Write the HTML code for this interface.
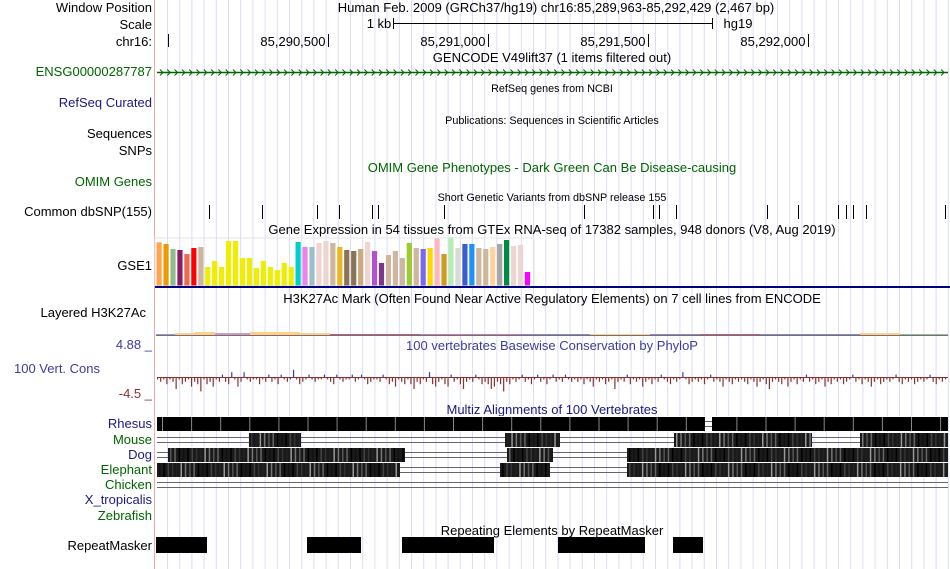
<!DOCTYPE html>
<html><head><meta charset="utf-8"><style>
body{margin:0;background:#fff;width:950px;height:569px;overflow:hidden;font-family:"Liberation Sans",sans-serif}
svg{display:block}
</style></head><body>
<svg id="c" width="950" height="569" xmlns="http://www.w3.org/2000/svg" font-family="Liberation Sans, sans-serif">
<g id="grid"></g>
<line x1="154.5" y1="0" x2="154.5" y2="569" stroke="#f4a8a8"/>
<g id="labels" font-size="13" text-anchor="end">
<text x="152" y="12">Window Position</text>
<text x="152" y="29">Scale</text>
<text x="152" y="46">chr16:</text>
<text x="152" y="76" fill="#006400">ENSG00000287787</text>
<text x="152" y="107" fill="#1a1a80">RefSeq Curated</text>
<text x="152" y="138">Sequences</text>
<text x="152" y="155">SNPs</text>
<text x="152" y="186" fill="#006400">OMIM Genes</text>
<text x="152" y="216">Common dbSNP(155)</text>
<text x="152" y="270">GSE1</text>
<text x="146" y="317">Layered H3K27Ac</text>
<text x="152" y="349" fill="#3c3c9c">4.88 _</text>
<text x="100" y="373" fill="#3c3c9c">100 Vert. Cons</text>
<text x="152" y="398" fill="#8b3030">-4.5 _</text>
<text x="152" y="428" fill="#1a1a80">Rhesus</text>
<text x="152" y="444" fill="#006400">Mouse</text>
<text x="152" y="459" fill="#1a1a80">Dog</text>
<text x="152" y="474" fill="#006400">Elephant</text>
<text x="152" y="489" fill="#006400">Chicken</text>
<text x="152" y="504" fill="#1a1a80">X_tropicalis</text>
<text x="152" y="520" fill="#006400">Zebrafish</text>
<text x="152" y="550">RepeatMasker</text>
</g>
<g font-size="13" text-anchor="middle">
<text x="556" y="12">Human Feb. 2009 (GRCh37/hg19)   chr16:85,289,963-85,292,429 (2,467 bp)</text>
<text x="379" y="28">1 kb</text>
<text x="738" y="28">hg19</text>
<text x="552" y="62">GENCODE V49lift37 (1 items filtered out)</text>
<text x="552" y="172" fill="#006400">OMIM Gene Phenotypes - Dark Green Can Be Disease-causing</text>
<text x="552" y="234">Gene Expression in 54 tissues from GTEx RNA-seq of 17382 samples, 948 donors (V8, Aug 2019)</text>
<text x="552" y="303">H3K27Ac Mark (Often Found Near Active Regulatory Elements) on 7 cell lines from ENCODE</text>
<text x="552" y="350" fill="#3c3c9c">100 vertebrates Basewise Conservation by PhyloP</text>
<text x="552" y="414" fill="#1a1a80">Multiz Alignments of 100 Vertebrates</text>
<text x="552" y="535">Repeating Elements by RepeatMasker</text>
</g>
<g font-size="10.8" text-anchor="middle">
<text x="552" y="92">RefSeq genes from NCBI</text>
<text x="552" y="124">Publications: Sequences in Scientific Articles</text>
<text x="552" y="201">Short Genetic Variants from dbSNP release 155</text>
</g>
<g stroke="#000">
<line x1="393" y1="23.5" x2="713" y2="23.5"/><line x1="393.5" y1="18" x2="393.5" y2="29"/><line x1="712.5" y1="18" x2="712.5" y2="29"/>
</g>
<g id="ruler"></g>
<g id="gene"></g>
<g id="snps"></g>
<g id="gtex"></g>
<g id="h3k"></g>
<g id="cons"></g>
<g id="multiz"></g>
<g id="rmsk"></g>
</svg>
<script>
const NS='http://www.w3.org/2000/svg';
const winStart=85289963, pxPerBp=0.32, x0=156.2;
function X(bp){return x0+(bp-winStart)*pxPerBp;}
function P(px){return winStart+(px-x0)/pxPerBp;}
function mk(parent,tag,attrs){const e=document.createElementNS(NS,tag);for(const k in attrs)e.setAttribute(k,attrs[k]);document.getElementById(parent).appendChild(e);return e;}

// grid
for(let gx=167.5;gx<950;gx+=12.2){
 const l=mk('grid','line',{x1:gx,y1:0,x2:gx,y2:569,stroke:'#dcdcf4'});
 
 
}

// ruler
const rulerTicks=[85290000,85290500,85291000,85291500,85292000];
const rulerLabels=['','85,290,500','85,291,000','85,291,500','85,292,000'];
rulerTicks.forEach((t,i)=>{
 const x=Math.round(X(t))+0.5;
 const l=mk('ruler','line',{x1:x,y1:34,x2:x,y2:47,stroke:'#000'});
 
 
 if(rulerLabels[i]){const tx=mk('ruler','text',{x:x-3,y:46,'font-size':13,'text-anchor':'end'});tx.textContent=rulerLabels[i];
 
 }
});

// gene arrows
mk('gene','line',{x1:157,y1:72.5,x2:948,y2:72.5,stroke:'#006400','stroke-width':1.5});
for(let ax=160;ax<946;ax+=7.3){
 const a=mk('gene','path',{d:`M${ax},69.5 L${ax+3},72.5 L${ax},75.5`,fill:'none',stroke:'#006400'});
 
 
}

// dbSNP
const snpPos=[85290129,85290294,85290466,85290535,85290638,85290657,85290863,85291301,85291516,85291535,85291588,85291872,85291969,85292094,85292119,85292141,85292181,85292428];
snpPos.forEach(p=>{const x=Math.round(X(p))+0.5;
 const l=mk('snps','line',{x1:x,y1:205,x2:x,y2:219,stroke:'#000'});
 
 });

// GTEx
const gtexValues=[43.7,42,37,36,32,38,39,19,25,19,45,45,28,28,18,25,19,16,23,19,44,39,39,43,45,43,39,36,35,37,44,35,23,31,35,28,43,38,37,38,48,32,49,38,42,42,38,37,39,42,46,40,41,14];
const gtexColors=['#FFA54F','#EE9A00','#8FBC8F','#8B1C62','#EE6A50','#FF0000','#CDB79E','#EEEE00','#EEEE00','#EEEE00','#EEEE00','#EEEE00','#EEEE00','#EEEE00','#EEEE00','#EEEE00','#EEEE00','#EEEE00','#EEEE00','#EEEE00','#00CDCD','#EE82EE','#9AC0CD','#EED5D2','#EED5D2','#CDB79E','#EEB422','#8B7355','#8B7355','#CDAA7D','#EED5D2','#B452CD','#7A378B','#CDB79E','#CDB79E','#CDB79E','#9ACD32','#CDB79E','#7B68EE','#FFD700','#FFB6C1','#CD9B1D','#B4EEB4','#D9D9D9','#3A5FCD','#1E90FF','#CDB79E','#CDB79E','#FFD39B','#A6A6A6','#008B45','#EED5D2','#EED5D2','#FF00FF'];
const gBase=286, gScale=1.0, gPitch=6.95, gX=156.5;
gtexValues.forEach((v,i)=>{const h=v*gScale;
 const r=mk('gtex','rect',{x:gX+i*gPitch,y:gBase-h,width:5.2,height:h,fill:gtexColors[i]});
 
 });
mk('gtex','rect',{x:155,y:238,width:379,height:48,fill:'none',stroke:'#e6e6e6'});
mk('gtex','line',{x1:155,y1:287,x2:950,y2:287,stroke:'#000080','stroke-width':2});

// H3K27Ac
const h3kStarts=[156,175,195,215,250,300,330,420,520,590,650,700,760,860,900];
const h3kHeights=[1,2,3,2,3,2,1,1,1,1,1,1,1,2,1];
const h3kColors=['#8FA0C0','#FFD080','#FFD080','#C8A0C0','#FFD080','#FFD080','#C06070','#C080A0','#8090C0','#FFD080','#8090C0','#C06070','#8090C0','#FFD080','#90C090'];
h3kStarts.forEach((s,i)=>{const e=i+1<h3kStarts.length?h3kStarts[i+1]:948;
 const r=mk('h3k','rect',{x:s,y:335-h3kHeights[i],width:e-s,height:h3kHeights[i],fill:h3kColors[i]});
 
 });
mk('h3k','line',{x1:156,y1:335.5,x2:948,y2:335.5,stroke:'#7a6a80'});

// conservation
const consValues=[-1,-2,-1,-3,-1,-2,-5,-1,-3,-2,-1,-4,-2,-3,-6,-1,-3,-2,-4,-1,-2,1,-2,-3,2,-1,-4,-2,2,-1,-2,-1,-1,-3,-1,-2,1,-2,-1,-3,1,-1,-2,-1,3,-1,-3,-2,-1,1,-1,-2,-1,-1,1,-1,-2,-3,1,-1,-2,-1,-1,1,-2,-1,1,-1,-3,-2,-1,-1,-2,1,-1,-3,-2,-4,-1,-2,-3,-1,-3,-5,-2,-3,-1,-2,2,-3,-4,-2,-1,-3,-4,1,-2,-1,-3,-5,-2,-1,-2,1,-1,-3,-2,-3,-5,-4,-2,-3,-6,-2,-3,-1,-2,-1,1,-2,-1,-3,-1,1,-2,-1,-3,-1,1,-2,-1,-2,1,-1,-2,-1,
 -2,-1,-3,-1,-2,-4,-1,-2,-1,-3,-2,-1,-5,-2,-1,-2,1,-3,-1,-2,-1,-4,-2,-1,-3,-1,-2,1,-1,-2,-3,-1,-2,-1,2,-1,-3,-2,-1,-2,-1,-3,-1,1,-2,-1,-2,-4,-1,-2,-3,-1,-2,-1,-2,-3,-1,-2,-4,-2,-1,-3,-5,-2,-1,-2,-3,-1,-4,-2,-1,-3,-1,-2,1,-2,-1,-3,-2,-1,-4,-2,-3,-1,-2,-1,-3,-2,-1,1,-2,-1,-3,-1,-2,-4,-2,-1,-3,-2,-1,-2,-1,1,-2,-3,-1,-2,-1,-3,-2,-1,-2,-1,1,-2,-3,-1,-2,-1];
const cZero=377, cUnit=2.4, cW=(948-157)/consValues.length;
consValues.forEach((v,i)=>{const h=Math.abs(v)*cUnit;
 const r=mk('cons','rect',{x:157+i*cW,y:v>0?cZero-h:cZero,width:1.2,height:h,fill:v>0?'#3c3c9c':'#8b3030'});
 
 });
mk('cons','line',{x1:157,y1:377.5,x2:948,y2:377.5,stroke:'#8b3030'});

// multiz blocks: [species row, start bp, end bp]
const mzRowY=[417,433,448,463,478];
const mzBlocks=[[0,P(157),P(705)],[0,P(712),P(948)],
 [1,P(249),P(301)],[1,P(505),P(560)],[1,P(674),P(812)],[1,P(860),P(948)],
 [2,P(168),P(405)],[2,P(507),P(553)],[2,P(627),P(948)],
 [3,P(157),P(400)],[3,P(500),P(550)],[3,P(627),P(948)]];
const mzShade=['#000','#222','#555','#111','#333','#777','#000','#444','#999','#666'];
mzRowY.forEach((y,r)=>{
 mk('multiz','line',{x1:157,y1:y+4.5,x2:948,y2:y+4.5,stroke:'#666'});
 mk('multiz','line',{x1:157,y1:y+9.5,x2:948,y2:y+9.5,stroke:'#666'});
});
mzBlocks.forEach((b,i)=>{const y=mzRowY[b[0]];const xs=X(b[1]),xe=X(b[2]);
 mk('multiz','rect',{x:xs,y:y-1,width:xe-xs,height:15,fill:'#fff'});
 const r=mk('multiz','rect',{x:xs,y:y,width:xe-xs,height:14,fill:b[0]==0?'#000':'#1a1a1a'});
 
 
 if(b[0]>0){for(let sx=xs+2,k=i;sx<xe-2;sx+=4.3,k++){
  mk('multiz','rect',{x:sx,y:y,width:1.5,height:14,fill:mzShade[(k*7)%mzShade.length]});
 }} else {for(let sx=xs+5,k=i;sx<xe-2;sx+=9.7,k++){if(k%3==0)mk('multiz','rect',{x:sx,y:y,width:1,height:14,fill:'#888'});}}
});

// RepeatMasker
const rmskBlocks=[[P(156),P(207)],[P(307),P(361)],[P(402),P(494)],[P(558),P(645)],[P(673),P(703)]];
rmskBlocks.forEach(b=>{const r=mk('rmsk','rect',{x:X(b[0]),y:537,width:X(b[1])-X(b[0]),height:16,fill:'#000'});
 
 });
</script>
</body></html>
